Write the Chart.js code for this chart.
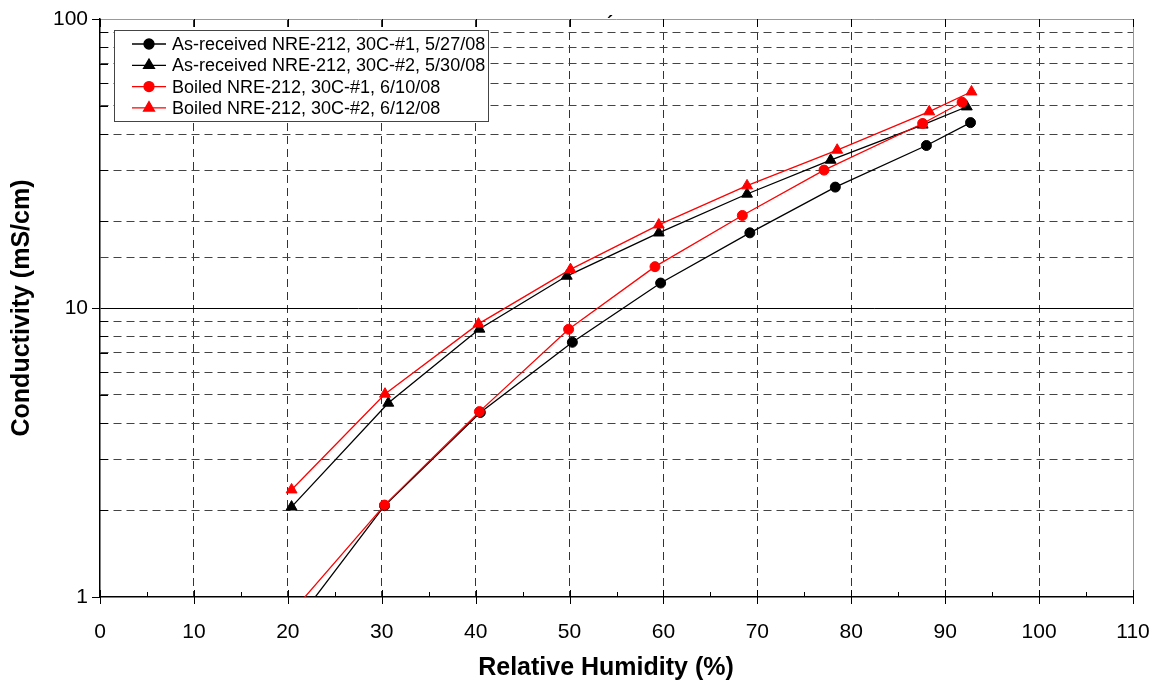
<!DOCTYPE html>
<html>
<head>
<meta charset="utf-8">
<script src="https://cdn.jsdelivr.net/npm/chart.js@4.4.1/dist/chart.umd.min.js"></script>
<style>
  body { margin: 0; background: #fff; }
  #wrap { width: 1158px; height: 681px; }
</style>
</head>
<body>
<div id="wrap"><canvas id="myChart" width="1158" height="681"></canvas></div>
<script>
// relative humidity (%) and conductivity (mS/cm)
const rhAsRec1 = [20.4, 30.3, 40.5, 50.3, 59.7, 69.2, 78.3, 88.0, 92.7];
const condAsRec1 = [0.78, 2.07, 4.35, 7.61, 12.2, 18.2, 26.2, 36.5, 43.8];
const rhAsRec2 = [20.4, 30.7, 40.4, 49.7, 59.5, 68.9, 77.8, 87.6, 92.3];
const condAsRec2 = [2.05, 4.69, 8.46, 12.9, 18.2, 24.8, 32.5, 43.0, 49.7];
const rhBoiled1 = [20.4, 30.3, 40.4, 49.9, 59.1, 68.4, 77.1, 87.6, 91.8];
const condBoiled1 = [0.885, 2.08, 4.38, 8.44, 13.9, 20.9, 30.0, 43.5, 51.5];
const rhBoiled2 = [20.4, 30.35, 40.3, 50.1, 59.5, 68.9, 78.5, 88.3, 92.8];
const condBoiled2 = [2.35, 5.04, 8.81, 13.6, 19.4, 26.5, 35.2, 47.8, 56.0];

const seriesLabels = [
    'As-received NRE-212, 30C-#1, 5/27/08',
    'As-received NRE-212, 30C-#2, 5/30/08',
    'Boiled NRE-212, 30C-#1, 6/10/08',
    'Boiled NRE-212, 30C-#2, 6/12/08'
];
const xTitle = 'Relative Humidity (%)';
const yTitle = 'Conductivity (mS/cm)';

const FONT = "'Liberation Sans', Arial, sans-serif";
Chart.defaults.font.family = FONT;
Chart.defaults.color = '#000';

let toPoints = function (xs, ys) {
    let pts = [];
    for (let i = 0; i < xs.length; i++) {
        pts.push({x: xs[i], y: ys[i]});
    }
    return pts;
}

let isPow10 = function (v) {
    let l = Math.log10(v);
    return Math.abs(l - Math.round(l)) < 1e-9;
}

let makeSet = function (label, xs, ys, color, style, order) {
    return {
        label: label,
        data: toPoints(xs, ys),
        borderColor: color,
        backgroundColor: color,
        borderWidth: 1.3,
        pointStyle: style,
        pointRadius: style === 'triangle' ? 6.3 : 5,
        pointBorderWidth: 1,
        pointHoverRadius: 5,
        order: order,
        tension: 0,
    };
}

// keep the plot box where the reference has it
let noPadding = function (scale) {
    scale.paddingTop = 0;
    scale.paddingBottom = 0;
    scale.paddingLeft = 0;
    scale.paddingRight = 0;
}

// tick marks, x title, legend box
const extras = {
    id: 'extras',
    afterDraw(chart) {
        const ctx = chart.ctx;
        const xs = chart.scales.x;
        const ys = chart.scales.y;
        const area = chart.chartArea;
        ctx.save();
        ctx.strokeStyle = '#000';
        ctx.lineWidth = 1;
        ctx.setLineDash([]);
        for (let v = 0; v <= 110; v += 5) {
            let px = Math.round(xs.getPixelForValue(v)) + 0.5;
            ctx.beginPath();
            if (v % 10 === 0) {
                ctx.moveTo(px, area.bottom - 7);
                ctx.lineTo(px, area.bottom + 7);
                ctx.moveTo(px, area.top);
                ctx.lineTo(px, area.top + 8);
            } else {
                ctx.moveTo(px, area.bottom - 5);
                ctx.lineTo(px, area.bottom);
            }
            ctx.stroke();
        }
        for (let d = 1; d <= 100; d *= 10) {
            for (let m = 1; m <= 9; m++) {
                let v = d * m;
                if (v > 100) break;
                let py = Math.round(ys.getPixelForValue(v)) + 0.5;
                ctx.beginPath();
                if (m === 1) {
                    ctx.moveTo(area.left - 8, py);
                    ctx.lineTo(area.left, py);
                } else {
                    ctx.moveTo(area.left, py);
                    ctx.lineTo(area.left + 8, py);
                }
                ctx.stroke();
            }
        }

        // x axis title
        ctx.fillStyle = '#000';
        ctx.font = 'bold 25px ' + FONT;
        ctx.textAlign = 'center';
        ctx.textBaseline = 'middle';
        ctx.fillText(xTitle, 606, 668);

        // stray mark above the plot
        ctx.font = 'bold 18px ' + FONT;
        ctx.textBaseline = 'alphabetic';
        ctx.fillText('\u00b4', 610, 29);
        ctx.textBaseline = 'middle';

        // legend
        const bx = 114, by = 30, bw = 374, bh = 91;
        ctx.fillStyle = '#fff';
        ctx.fillRect(bx, by, bw, bh);
        ctx.strokeStyle = '#444';
        ctx.lineWidth = 1;
        ctx.strokeRect(bx + 0.5, by + 0.5, bw, bh);
        ctx.font = '18px ' + FONT;
        ctx.textAlign = 'left';
        const sets = chart.data.datasets;
        for (let i = 0; i < sets.length; i++) {
            let ds = sets[i];
            let ry = 44 + i * 21.3;
            ctx.strokeStyle = ds.borderColor;
            ctx.lineWidth = 1.3;
            ctx.beginPath();
            ctx.moveTo(132, ry);
            ctx.lineTo(166, ry);
            ctx.stroke();
            ctx.fillStyle = ds.backgroundColor;
            Chart.helpers.drawPoint(ctx, {
                pointStyle: ds.pointStyle,
                radius: ds.pointRadius,
                rotation: 0,
                borderWidth: 1
            }, 149, ry);
            ctx.fillStyle = '#000';
            ctx.fillText(ds.label, 172, ry + 1);
        }
        ctx.restore();
    }
};

const ctx = document.getElementById('myChart').getContext('2d');
const config = {
    type: 'line',
    data: {
        datasets: [
            makeSet(seriesLabels[0], rhAsRec1, condAsRec1, '#000000', 'circle', 2),
            makeSet(seriesLabels[1], rhAsRec2, condAsRec2, '#000000', 'triangle', 3),
            makeSet(seriesLabels[2], rhBoiled1, condBoiled1, '#ff0000', 'circle', 0),
            makeSet(seriesLabels[3], rhBoiled2, condBoiled2, '#ff0000', 'triangle', 1),
        ]
    },
    options: {
        responsive: false,
        animation: false,
        layout: {
            padding: {top: 19, right: 25, left: 0, bottom: 0}
        },
        plugins: {
            legend: {display: false},
            tooltip: {enabled: false},
        },
        scales: {
            x: {
                type: 'linear',
                min: 0,
                max: 110,
                afterFit: function (scale) {
                    scale.height = 84;
                    noPadding(scale);
                },
                ticks: {
                    stepSize: 10,
                    padding: 23,
                    font: {size: 21},
                    color: '#000',
                },
                grid: {
                    drawTicks: false,
                    lineWidth: 1,
                    color: function (c) {
                        let v = c.tick ? c.tick.value : 0;
                        if (v === 0) return 'rgba(0,0,0,0)';
                        if (v === 110) return '#999';
                        return '#333';
                    },
                },
                border: {
                    color: '#000',
                    width: 1.5,
                    dash: function (c) {
                        let v = c.tick ? c.tick.value : 0;
                        return (v === 0 || v === 110) ? [] : [8, 5];
                    },
                },
            },
            y: {
                type: 'logarithmic',
                min: 1,
                max: 100,
                afterFit: function (scale) {
                    scale.width = 100;
                    noPadding(scale);
                },
                title: {
                    display: true,
                    text: yTitle,
                    font: {size: 25, weight: 'bold'},
                    padding: {top: 7, bottom: 0},
                    color: '#000',
                },
                ticks: {
                    autoSkip: false,
                    padding: 12,
                    font: {size: 21},
                    color: '#000',
                    callback: function (value) {
                        return isPow10(value) ? String(Math.round(value)) : '';
                    },
                },
                grid: {
                    drawTicks: false,
                    lineWidth: 1,
                    color: function (c) {
                        let v = c.tick ? c.tick.value : 1;
                        if (Math.abs(v - 1) < 1e-9) return 'rgba(0,0,0,0)';
                        if (Math.abs(v - 100) < 1e-9) return '#999';
                        if (Math.abs(v - 10) < 1e-9) return '#000';
                        return '#444';
                    },
                },
                border: {
                    color: '#000',
                    width: 1.5,
                    dash: function (c) {
                        let v = c.tick ? c.tick.value : 1;
                        return isPow10(v) ? [] : [8, 5];
                    },
                },
            },
        },
    },
    plugins: [extras],
};

const lineChart = new Chart(ctx, config);
</script>
</body>
</html>
